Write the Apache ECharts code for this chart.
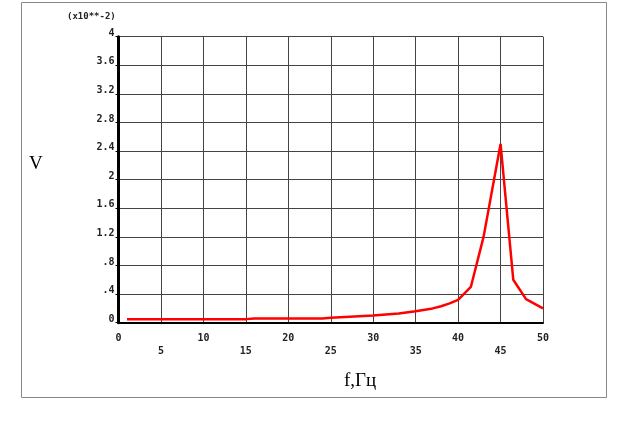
<!DOCTYPE html>
<html><head><meta charset="utf-8">
<script src="https://cdn.jsdelivr.net/npm/echarts@6/dist/echarts.min.js"></script>
<style>html,body{margin:0;padding:0;background:#fff}#c{width:628px;height:432px}</style>
</head><body><div id="c"></div>
<script>
const freq = [1, 15, 16, 24, 25, 30, 33, 35, 37, 38, 39, 40, 41.5, 43, 45, 46.5, 48, 50];
const volt = [0.05, 0.05, 0.06, 0.06, 0.07, 0.1, 0.13, 0.16, 0.2, 0.23, 0.27, 0.32, 0.5, 1.2, 2.5, 0.6, 0.33, 0.2];
const yTickLabels = {0:'0',0.4:'.4',0.8:'.8',1.2:'1.2',1.6:'1.6',2:'2',2.4:'2.4',2.8:'2.8',3.2:'3.2',3.6:'3.6',4:'4'};
const yScaleNote = '(x10**-2)';
const yName = 'V';
const xName = 'f,Гц';

const chart = echarts.init(document.getElementById('c'), null, {renderer:'canvas'});
const mono = {fontFamily:'DejaVu Sans Mono', fontSize:10, fontWeight:'bold', color:'#222'};
const gridLine = {show:true, lineStyle:{color:'#444', width:1}};
chart.setOption({
  animation:false,
  backgroundColor:'#fff',
  grid:{left:118.5, right:85, top:36.7, bottom:109.3},
  xAxis:[{
    type:'value', min:0, max:50, interval:5,
    axisLine:{show:true, onZero:false, lineStyle:{color:'#000', width:2}},
    axisTick:{show:false},
    splitLine:gridLine,
    axisLabel:Object.assign({margin:11, formatter:v => (v % 10 === 0 ? String(v) : '')}, mono)
  },{
    type:'value', min:0, max:50, interval:5, position:'bottom',
    axisLine:{show:false}, axisTick:{show:false}, splitLine:{show:false},
    axisLabel:Object.assign({margin:24, formatter:v => (v % 10 === 5 ? String(v) : '')}, mono)
  }],
  yAxis:{
    type:'value', min:0, max:4, interval:0.4,
    axisLine:{show:true, onZero:false, lineStyle:{color:'#000', width:3}},
    axisTick:{show:true, inside:false, length:3, lineStyle:{color:'#000'}},
    splitLine:gridLine,
    axisLabel:Object.assign({margin:4, verticalAlign:'bottom', lineHeight:7, formatter:v => {
      const k = Math.round(v*10)/10; return yTickLabels[k] !== undefined ? yTickLabels[k] : '';
    }}, mono)
  },
  series:[{
    type:'line', showSymbol:false, symbol:'none',
    data:freq.map((f,i)=>[f, volt[i]]),
    lineStyle:{color:'#ff0000', width:2.5},
    z:5
  }],
  graphic:[
    {type:'rect', shape:{x:21.5, y:2.5, width:585, height:395}, style:{fill:null, stroke:'#888', lineWidth:1}, z:-1},
    {type:'text', left:67, top:12, style:{text:yScaleNote, font:'bold 9px "DejaVu Sans Mono"', fill:'#222'}},
    {type:'text', left:29, top:155, style:{text:yName, font:'19px "Liberation Serif"', fill:'#000'}},
    {type:'text', left:344, top:372, style:{text:xName, font:'19px "Liberation Serif"', fill:'#000'}}
  ]
});
</script></body></html>
